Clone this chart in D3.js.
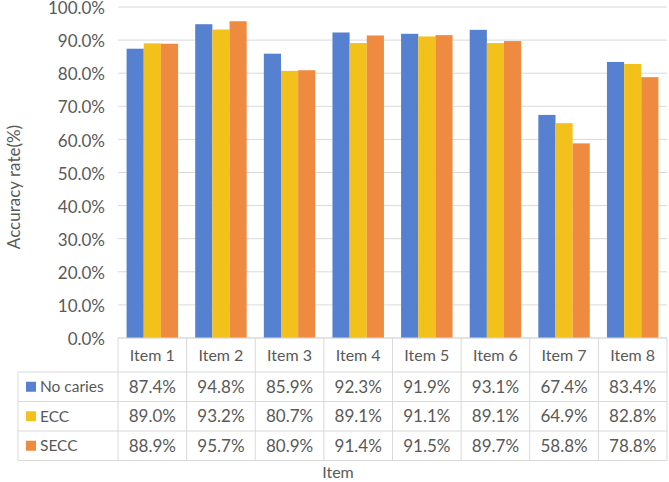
<!DOCTYPE html>
<html>
<head>
<meta charset="utf-8">
<script src="https://cdn.jsdelivr.net/npm/d3@7"></script>
<style>
  body { margin: 0; background: #fff; }
  text { font-family: Lato, "Open Sans", sans-serif; fill: #595959; }
</style>
</head>
<body>
<div id="chart"></div>
<script>
const items = ["Item 1", "Item 2", "Item 3", "Item 4", "Item 5", "Item 6", "Item 7", "Item 8"];
const seriesNames = ["No caries", "ECC", "SECC"];
const noCaries = [87.4, 94.8, 85.9, 92.3, 91.9, 93.1, 67.4, 83.4];
const ecc = [89.0, 93.2, 80.7, 89.1, 91.1, 89.1, 64.9, 82.8];
const secc = [88.9, 95.7, 80.9, 91.4, 91.5, 89.7, 58.8, 78.8];
const yTicks = [0, 10, 20, 30, 40, 50, 60, 70, 80, 90, 100];

const colors = ["#5680d0", "#f2c11c", "#ef8b40"];
const series = [noCaries, ecc, secc];

const width = 669, height = 482;
// plot area and data table geometry
const plot = { left: 118, right: 667, top: 7, bottom: 338 };
const legendLeft = 18;
const headerH = 34, rowH = 29.5;

const svg = d3.select("#chart")
    .append("svg")
    .attr("width", width)
    .attr("height", height);

const x = d3.scaleBand()
    .domain(items)
    .range([plot.left, plot.right])
    .padding(0);

const y = d3.scaleLinear()
    .domain([0, 100])
    .range([plot.bottom, plot.top]);

// gridlines
svg.append("g")
    .selectAll("line")
    .data(yTicks)
    .enter()
    .append("line")
    .attr("x1", plot.left)
    .attr("x2", plot.right)
    .attr("y1", d => y(d))
    .attr("y2", d => y(d))
    .style("stroke", "#d9d9d9")
    .style("stroke-width", 1);

// y tick labels
svg.append("g")
    .selectAll("text")
    .data(yTicks)
    .enter()
    .append("text")
    .attr("x", 105)
    .attr("y", d => y(d) + 1)
    .attr("dy", "0.36em")
    .attr("text-anchor", "end")
    .style("font-size", "17px")
    .text(d => d.toFixed(1) + "%");

// bars: Excel-style gap width 100% -> 3 bars + 1 gap per band
const bw = x.bandwidth() / 4;
series.forEach((vals, si) => {
    svg.append("g")
        .selectAll("rect")
        .data(vals)
        .enter()
        .append("rect")
        .attr("x", (d, i) => x(items[i]) + bw / 2 + si * bw)
        .attr("y", d => y(d))
        .attr("width", bw)
        .attr("height", d => y(0) - y(d))
        .style("fill", colors[si]);
});

// data table
const tableTop = plot.bottom;
const rowY = (r) => tableTop + headerH + r * rowH;
const tableBottom = rowY(3);
const grid = svg.append("g").style("stroke", "#d9d9d9").style("stroke-width", 1);

// horizontal lines
grid.append("line")
    .attr("x1", plot.left).attr("x2", plot.right)
    .attr("y1", tableTop).attr("y2", tableTop);
[0, 1, 2, 3].forEach(r => {
    grid.append("line")
        .attr("x1", legendLeft).attr("x2", plot.right)
        .attr("y1", rowY(r)).attr("y2", rowY(r));
});
// vertical lines
items.forEach(it => {
    grid.append("line")
        .attr("x1", x(it)).attr("x2", x(it))
        .attr("y1", tableTop).attr("y2", tableBottom);
});
grid.append("line")
    .attr("x1", plot.right).attr("x2", plot.right)
    .attr("y1", tableTop).attr("y2", tableBottom);
grid.append("line")
    .attr("x1", legendLeft).attr("x2", legendLeft)
    .attr("y1", rowY(0)).attr("y2", tableBottom);

// header labels
svg.append("g")
    .selectAll("text")
    .data(items)
    .enter()
    .append("text")
    .attr("x", d => x(d) + x.bandwidth() / 2)
    .attr("y", tableTop + headerH / 2)
    .attr("dy", "0.36em")
    .attr("text-anchor", "middle")
    .style("font-size", "16px")
    .text(d => d);

// legend + values
series.forEach((vals, si) => {
    const cy = rowY(si) + rowH / 2;
    svg.append("rect")
        .attr("x", 26)
        .attr("y", cy - 5)
        .attr("width", 10)
        .attr("height", 10)
        .style("fill", colors[si]);
    svg.append("text")
        .attr("x", 40)
        .attr("y", cy)
        .attr("dy", "0.36em")
        .style("font-size", "15.5px")
        .text(seriesNames[si]);
    svg.append("g")
        .selectAll("text")
        .data(vals)
        .enter()
        .append("text")
        .attr("x", (d, i) => x(items[i]) + x.bandwidth() / 2)
        .attr("y", cy)
        .attr("dy", "0.36em")
        .attr("text-anchor", "middle")
        .style("font-size", "17px")
        .text(d => d.toFixed(1) + "%");
});

// axis titles
svg.append("text")
    .attr("x", 338)
    .attr("y", 472)
    .attr("dy", "0.36em")
    .attr("text-anchor", "middle")
    .style("font-size", "16px")
    .text("Item");

svg.append("text")
    .attr("transform", "translate(14, 187) rotate(-90)")
    .attr("dy", "0.36em")
    .attr("text-anchor", "middle")
    .style("font-size", "17px")
    .text("Accuracy rate(%)");
</script>
</body>
</html>
